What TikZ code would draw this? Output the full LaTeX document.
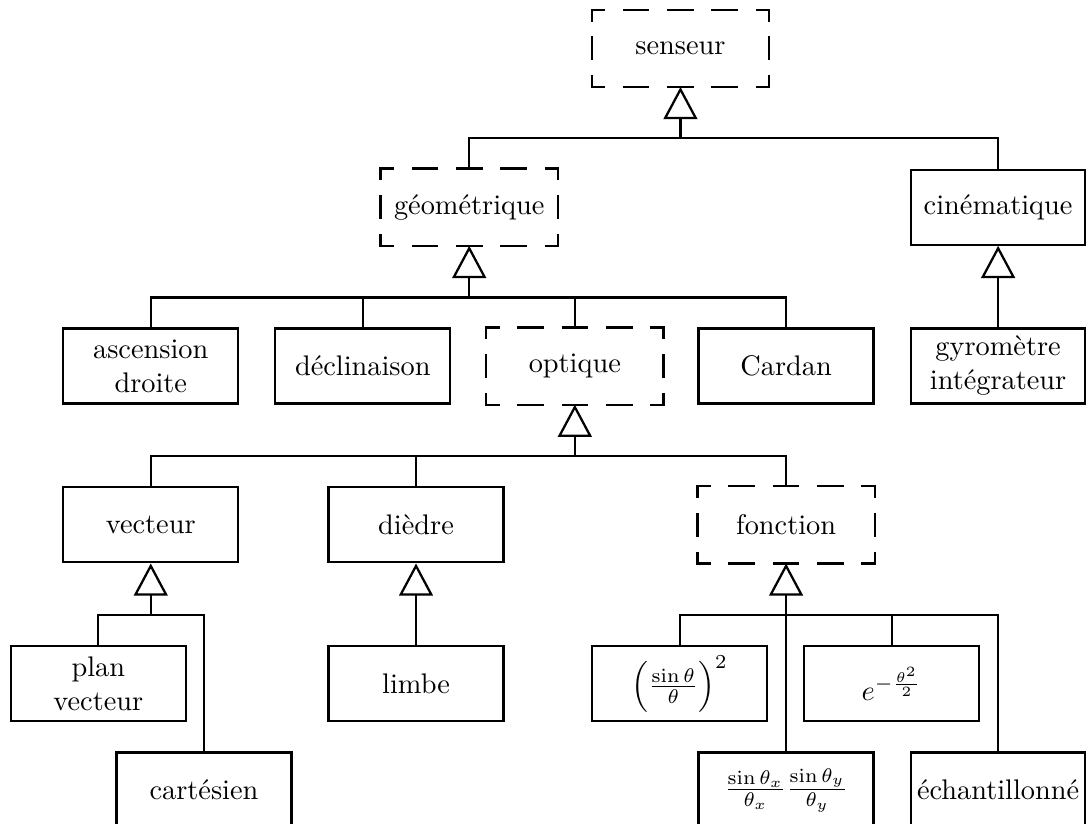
\documentclass[tikz,border=0pt]{standalone}
\usepackage{tikz}
\usepackage{amssymb}
\usepackage{amsmath}
\usetikzlibrary{arrows.meta}

\tikzset{
  classe/.style={draw, thick, minimum width=2.17cm, minimum height=0.93cm, inner sep=1pt, align=center},
  abstraite/.style={classe, draw=none},
  tiretH/.style={thick, line cap=rect, dash pattern=on 8.6pt off 7.04pt, dash phase=4.3pt},
  tiretV/.style={thick, line cap=rect, dash pattern=on 7.6pt off 6.03pt, dash phase=3.8pt},
  herite/.style={thick, -{Triangle[open, length=0.40cm, width=0.42cm]}}
}
% cadre en tirets d'une classe abstraite
\newcommand{\cadre}[1]{%
  \draw[tiretH] (#1.north west) -- (#1.north east);
  \draw[tiretH] (#1.south west) -- (#1.south east);
  \draw[tiretV] (#1.north west) -- (#1.south west);
  \draw[tiretV] (#1.north east) -- (#1.south east);}

\begin{document}
\begin{tikzpicture} [scale = 1]
\useasboundingbox (0.0, 0.0) rectangle (13.47, 10.22);
% classes
\node[abstraite] (sens) at (8.44, 9.62){senseur};
\node[abstraite] (geo) at (5.82, 7.65){géométrique};
\node[classe] (cine) at (12.38, 7.65){cinématique};
\node[classe] (asc) at (1.87, 5.68){ascension\\droite};
\node[classe] (decl) at (4.50, 5.68){déclinaison};
\node[abstraite] (opt) at (7.13, 5.68){optique};
\node[classe] (card) at (9.75, 5.68){Cardan};
\node[classe] (gyro) at (12.38, 5.68){gyromètre\\intégrateur};
\node[classe] (vect) at (1.87, 3.71){vecteur};
\node[classe] (diedre) at (5.16, 3.71){dièdre};
\node[abstraite] (fonc) at (9.75, 3.71){fonction};
\node[classe] (plan) at (1.22, 1.74){plan\\vecteur};
\node[classe] (limbe) at (5.16, 1.74){limbe};
\node[classe] (sinc) at (8.43, 1.74){$\Bigl(\frac{\sin\theta}{\theta}\Bigr)^2$};
\node[classe] (gauss) at (11.06, 1.74){$e^{-\frac{\theta^2}{2}}$};
\node[classe] (cart) at (2.53, 0.42){cartésien};
\node[classe] (sincxy) at (9.75, 0.42){$\frac{\sin\theta_x}{\theta_x}\frac{\sin\theta_y}{\theta_y}$};
\node[classe] (echant) at (12.38, 0.42){échantillonné};
\cadre{sens}
\cadre{geo}
\cadre{opt}
\cadre{fonc}
% liens d'heritage
\coordinate (b1) at (8.44, 8.51);
\draw[thick] (geo.north) |- (b1) -| (cine.north);
\draw[herite] (b1) -- (sens);
\coordinate (b2) at (5.82, 6.53);
\draw[thick] (asc.north) |- (b2) -| (card.north);
\draw[thick] (decl.north) -- (decl.north |- b2);
\draw[thick] (opt.north) -- (opt.north |- b2);
\draw[herite] (b2) -- (geo);
\draw[herite] (gyro) -- (cine);
\coordinate (b3) at (7.13, 4.56);
\draw[thick] (vect.north) |- (b3) -| (fonc.north);
\draw[thick] (diedre.north) -- (diedre.north |- b3);
\draw[herite] (b3) -- (opt);
\coordinate (b4) at (1.87, 2.59);
\draw[thick] (plan.north) |- (b4) -| (cart.north);
\draw[herite] (b4) -- (vect);
\draw[herite] (limbe) -- (diedre);
\coordinate (b5) at (9.75, 2.59);
\draw[thick] (sinc.north) |- (b5) -| (echant.north);
\draw[thick] (gauss.north) -- (gauss.north |- b5);
\draw[herite] (sincxy) -- (fonc);
\end{tikzpicture}
\end{document}
